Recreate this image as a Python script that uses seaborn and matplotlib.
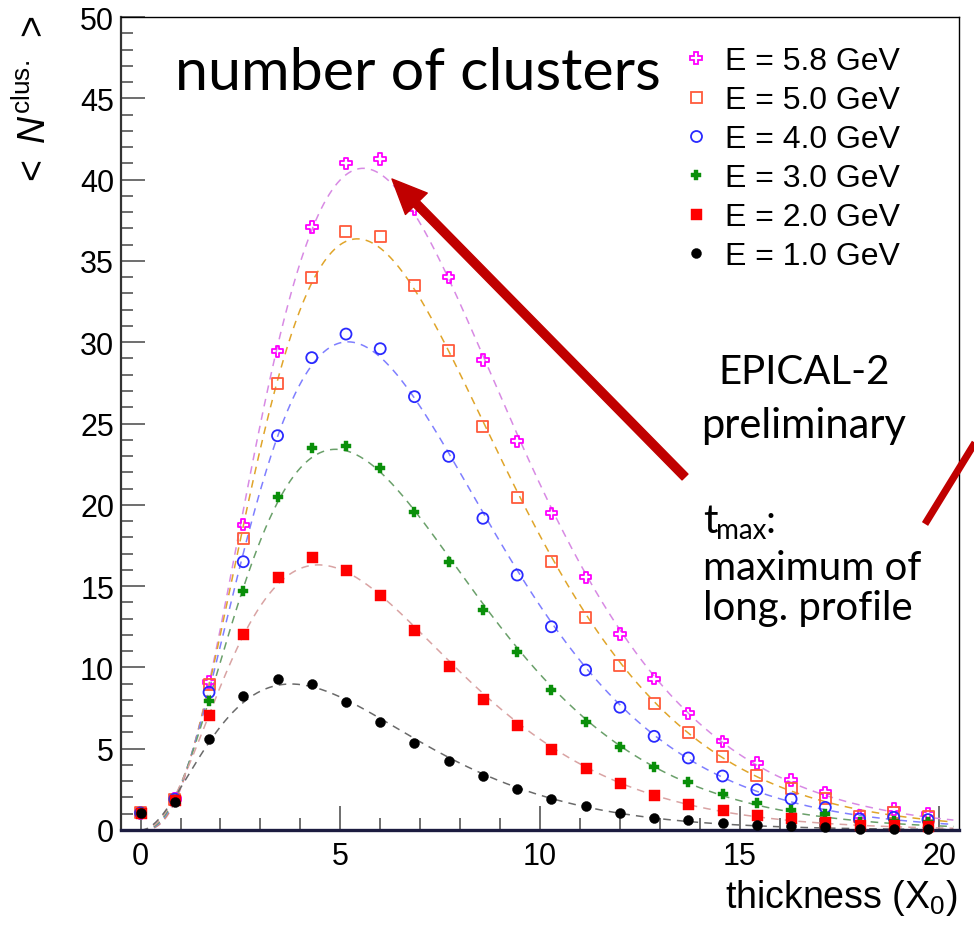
import numpy as np
import pandas as pd
import matplotlib
matplotlib.use("Agg")
import matplotlib.pyplot as plt
import seaborn as sns
from matplotlib.lines import Line2D
from matplotlib.patches import FancyArrowPatch

# ---------------- data ----------------
thickness = [0.0, 0.857, 1.714, 2.571, 3.429, 4.286, 5.143, 6.0, 6.857, 7.714,
             8.571, 9.429, 10.286, 11.143, 12.0, 12.857, 13.714, 14.571, 15.429,
             16.286, 17.143, 18.0, 18.857, 19.714]

e58 = [1.05, 1.9, 9.1, 18.78, 29.44, 37.08, 41.0, 41.27, 38.2, 33.99, 28.9, 23.9,
       19.48, 15.54, 12.05, 9.31, 7.18, 5.45, 4.12, 3.09, 2.32, 0.88, 1.29, 0.98]
e50 = [1.05, 1.9, 8.92, 17.94, 27.47, 33.95, 36.8, 36.53, 33.48, 29.48, 24.83, 20.46,
       16.5, 13.08, 10.1, 7.75, 5.98, 4.51, 3.38, 2.56, 1.95, 0.85, 1.09, 0.84]
e40 = [1.05, 1.9, 8.47, 16.5, 24.25, 29.05, 30.5, 29.6, 26.65, 22.98, 19.17, 15.68,
       12.5, 9.84, 7.55, 5.76, 4.43, 3.32, 2.48, 1.91, 1.39, 0.68, 0.78, 0.64]
e30 = [1.05, 1.85, 7.93, 14.68, 20.46, 23.47, 23.64, 22.28, 19.58, 16.5, 13.53, 10.93,
       8.61, 6.66, 5.12, 3.85, 2.97, 2.2, 1.64, 1.25, 0.98, 0.5, 0.57, 0.47]
e20 = [1.06, 1.84, 7.07, 12.05, 15.54, 16.77, 15.99, 14.43, 12.3, 10.1, 8.06, 6.46,
       4.98, 3.81, 2.89, 2.15, 1.6, 1.25, 0.92, 0.72, 0.51, 0.31, 0.31, 0.27]
e10 = [1.06, 1.7, 5.6, 8.26, 9.29, 9.0, 7.89, 6.66, 5.37, 4.22, 3.3, 2.52, 1.91,
       1.46, 1.07, 0.76, 0.61, 0.43, 0.31, 0.25, 0.16, 0.08, 0.07, 0.06]

labels = ["E = 5.8 GeV", "E = 5.0 GeV", "E = 4.0 GeV",
          "E = 3.0 GeV", "E = 2.0 GeV", "E = 1.0 GeV"]
series = [e58, e50, e40, e30, e20, e10]

# ---------------- styles ----------------
marker_colors = ["#ff00ff", "#ff5a3c", "#2a2aff", "#0a8f0a", "#ff0000", "#000000"]
line_colors = ["#d88ae4", "#e0a52a", "#7f7fff", "#6aa06a", "#d9a3a3", "#6a6a6a"]
markers = ["P", "s", "o", "P", "s", "o"]
filled = [False, False, False, True, True, True]
msize = [11.5, 11, 11, 10.5, 11, 10]  # pixels

W, H = 974, 929
DPI = 100
PX = 72.0 / DPI  # points per pixel

sns.set_style("ticks")
plt.rcParams["font.family"] = ["Liberation Sans", "DejaVu Sans"]
plt.rcParams["mathtext.fontset"] = "custom"
plt.rcParams["mathtext.rm"] = "Liberation Sans"
plt.rcParams["mathtext.it"] = "Liberation Sans:italic"
plt.rcParams["mathtext.bf"] = "Liberation Sans:bold"
plt.rcParams["text.color"] = "black"
plt.rcParams["axes.labelcolor"] = "black"
plt.rcParams["xtick.labelcolor"] = "black"
plt.rcParams["ytick.labelcolor"] = "black"

fig = plt.figure(figsize=(W / DPI, H / DPI), dpi=DPI)
ax = fig.add_axes([121 / W, 1 - 831 / H, (959 - 121) / W, (831 - 18) / H])

t_arr = np.array(thickness)


def fit_profile(t, y):
    idx = np.arange(len(t))
    m = (t > 0) & (idx <= 20)
    tt, yy = t[m], y[m]
    X = np.column_stack([np.ones_like(tt), np.log(tt), -tt])
    w = yy
    p, *_ = np.linalg.lstsq(X * w[:, None], np.log(yy) * w, rcond=None)
    sig = np.sqrt(yy)
    for _ in range(80):
        f = np.exp(X @ p)
        J = (f[:, None] * X) / sig[:, None]
        dp, *_ = np.linalg.lstsq(J, (yy - f) / sig, rcond=None)
        p = p + dp
        if np.max(np.abs(dp)) < 1e-10:
            break
    return p


tgrid = np.linspace(0.001, 20.35, 600)

# fitted dashed curves
for vals, lc in zip(series, line_colors):
    p = fit_profile(t_arr, np.array(vals))
    curve = np.exp(p[0] + p[1] * np.log(tgrid) - p[2] * tgrid)
    sns.lineplot(x=tgrid, y=curve, ax=ax, color=lc, linewidth=1.1,
                 linestyle=(0, (5, 4)), sort=False, estimator=None, zorder=2)

# markers
for vals, mc, mk, fl, ms in zip(series, marker_colors, markers, filled, msize):
    s = (ms * PX) ** 2
    kw = dict(x=thickness, y=vals, ax=ax, marker=mk, s=s, color=mc,
              edgecolor=mc, linewidth=1.3, zorder=3, clip_on=False)
    if not fl:
        kw["facecolor"] = "none"
    else:
        kw["linewidth"] = 0.3
    sns.scatterplot(**kw)

ax.set_xlim(-0.49, 20.49)
ax.set_ylim(0, 50)
ax.set_xticks([0, 5, 10, 15, 20])
ax.set_yticks([0, 5, 10, 15, 20, 25, 30, 35, 40, 45, 50])
ax.set_xticks(np.arange(0, 21, 1), minor=True)
ax.set_yticks(np.arange(0, 51, 1), minor=True)
ax.tick_params(which="both", direction="in", color="#555555", width=1.2,
               labelsize=22, labelcolor="black", top=False, right=False)
ax.tick_params(which="major", length=24 * PX)
ax.tick_params(which="minor", length=12 * PX)
ax.tick_params(axis="x", pad=8)
ax.tick_params(axis="y", pad=5)
ax.set_xlabel("")
ax.set_ylabel("")

for side in ["top", "right"]:
    ax.spines[side].set_visible(True)
    ax.spines[side].set_color("#000000")
    ax.spines[side].set_linewidth(1.0)
ax.spines["left"].set_color("#333333")
ax.spines["left"].set_linewidth(1.6)
ax.spines["bottom"].set_color("#1c1c40")
ax.spines["bottom"].set_linewidth(2.4)

# legend
handles = []
for mc, mk, fl, ms in zip(marker_colors, markers, filled, msize):
    handles.append(Line2D([], [], linestyle="none", marker=mk, markersize=ms * PX,
                          markerfacecolor=(mc if fl else "none"),
                          markeredgecolor=mc, markeredgewidth=1.3 if not fl else 0.3))
leg = ax.legend(handles, labels, loc="upper left",
                bbox_to_anchor=(683 / W, 1 - 47 / H), bbox_transform=fig.transFigure,
                frameon=False, fontsize=23, handlelength=0.8, handletextpad=0.5,
                labelspacing=0.28, borderpad=0, borderaxespad=0)
for txt in leg.get_texts():
    txt.set_color("black")

# axis titles
fig.text(958 / W, 1 - 908 / H, r"thickness (X$_{\rm 0}$)", ha="right", va="baseline",
         fontsize=27, color="black")
fig.text(35 / W, 1 - 15 / H, r"$<\ N^{\rm clus.}\ >$", rotation=90, ha="center",
         va="top", fontsize=27, color="black")

# annotations
calib = ["Lato", "DejaVu Sans"]
fig.text(175 / W, 1 - 90 / H, "number of clusters", family=calib, fontsize=42.7,
         ha="left", va="baseline", color="black")
fig.text(804 / W, 1 - 384 / H, "EPICAL-2", family=calib, fontsize=29,
         ha="center", va="baseline", color="black")
fig.text(804 / W, 1 - 438 / H, "preliminary", family=calib, fontsize=30,
         ha="center", va="baseline", color="black")
fig.text(703 / W, 1 - 533 / H, "t", family=calib, fontsize=29, ha="left",
         va="baseline", color="black")
fig.text(716 / W, 1 - 539 / H, "max", family=calib, fontsize=20, ha="left",
         va="baseline", color="black")
fig.text(766 / W, 1 - 533 / H, ":", family=calib, fontsize=29, ha="left",
         va="baseline", color="black")
fig.text(703 / W, 1 - 580 / H, "maximum of", family=calib, fontsize=28.9, ha="left",
         va="baseline", color="black")
fig.text(703 / W, 1 - 620 / H, "long. profile", family=calib, fontsize=28.9, ha="left",
         va="baseline", color="black")

arrow = FancyArrowPatch((685 / W, 1 - 478 / H), (392 / W, 1 - 180 / H),
                        transform=fig.transFigure,
                        arrowstyle="simple,head_length=1.25,head_width=1.1,tail_width=0.3",
                        mutation_scale=20, color="#c00000", shrinkA=0, shrinkB=0,
                        zorder=10)
fig.add_artist(arrow)
fig.add_artist(Line2D([925 / W, 1000 / W], [1 - 525 / H, 1 - 403 / H],
                      transform=fig.transFigure, color="#c00000", linewidth=5.2,
                      solid_capstyle="butt", zorder=10))

fig.savefig("out.png", dpi=DPI)
